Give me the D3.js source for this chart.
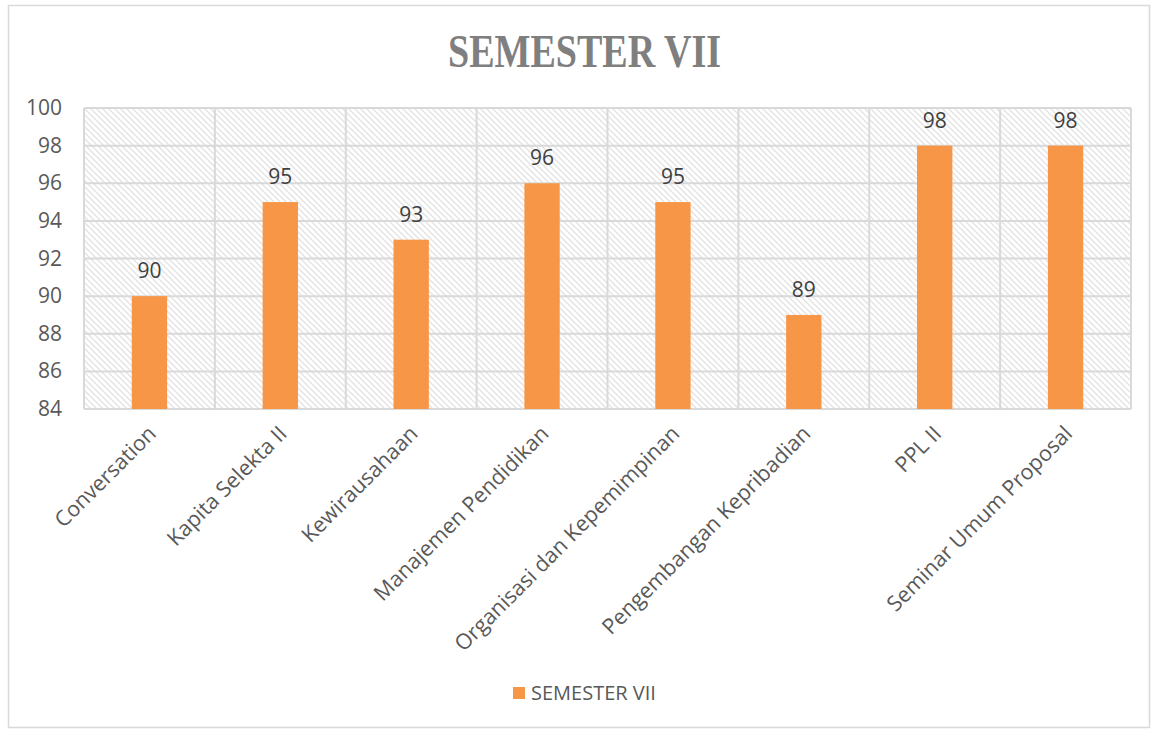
<!DOCTYPE html>
<meta charset="utf-8">
<style>
  body {margin: 0; background: #fff; font-family: "Open Sans", Lato, sans-serif;}
</style>
<svg width="1158" height="729"></svg>
<script src="https://cdn.jsdelivr.net/npm/d3@7"></script>
<script>
  // data
  const subjects = ["Conversation", "Kapita Selekta II", "Kewirausahaan", "Manajemen Pendidikan",
    "Organisasi dan Kepemimpinan", "Pengembangan Kepribadian", "PPL II", "Seminar Umum Proposal"];
  const scores = [90, 95, 93, 96, 95, 89, 98, 98];
  const yTicks = [84, 86, 88, 90, 92, 94, 96, 98, 100];
  const seriesName = "SEMESTER VII";

  const svg = d3.select("svg");
  const margin = {left: 84, right: 1131, top: 108, bottom: 409};

  // chart frame
  svg.append("rect")
    .attr("x", 8.5).attr("y", 5.5).attr("width", 1141).attr("height", 722)
    .attr("fill", "#fff").attr("stroke", "#d9d9d9").attr("stroke-width", 1.5);

  // hatch pattern
  const pat = svg.append("defs").append("pattern")
    .attr("id", "hatch").attr("patternUnits", "userSpaceOnUse")
    .attr("width", 6).attr("height", 6);
  pat.append("rect").attr("width", 6).attr("height", 6).attr("fill", "#fff");
  pat.append("path").attr("d", "M-1,-1 L7,7 M-1,5 L1,7 M5,-1 L7,1")
    .attr("stroke", "#e4e4e4").attr("stroke-width", 1.4);

  const x = d3.scaleBand().domain(subjects).range([margin.left, margin.right]).paddingInner(0).paddingOuter(0);
  const y = d3.scaleLinear().domain([84, 100]).range([margin.bottom, margin.top]);

  svg.append("rect")
    .attr("x", margin.left).attr("y", margin.top)
    .attr("width", margin.right - margin.left).attr("height", margin.bottom - margin.top)
    .attr("fill", "url(#hatch)");

  // gridlines
  svg.append("g").selectAll("line").data(yTicks).enter().append("line")
    .attr("x1", margin.left).attr("x2", margin.right)
    .attr("y1", d => y(d)).attr("y2", d => y(d))
    .attr("stroke", "#d9d9d9").attr("stroke-width", 2);
  const bounds = subjects.map(s => x(s)).concat([margin.right]);
  svg.append("g").selectAll("line").data(bounds).enter().append("line")
    .attr("x1", d => d).attr("x2", d => d)
    .attr("y1", margin.top).attr("y2", margin.bottom)
    .attr("stroke", "#d9d9d9").attr("stroke-width", 2);

  // bars
  const bw = x.bandwidth() * 0.27;
  svg.append("g").selectAll("rect").data(scores).enter().append("rect")
    .attr("x", (d, i) => x(subjects[i]) + x.bandwidth() / 2 - bw / 2)
    .attr("y", d => y(d))
    .attr("width", bw)
    .attr("height", d => y(84) - y(d))
    .attr("fill", "#f79646");

  // data labels
  svg.append("g").selectAll("text").data(scores).enter().append("text")
    .attr("x", (d, i) => x(subjects[i]) + x.bandwidth() / 2)
    .attr("y", d => y(d) - 18)
    .attr("text-anchor", "middle")
    .attr("font-size", 21).attr("fill", "#404040")
    .text(d => d);

  // y axis labels
  svg.append("g").selectAll("text").data(yTicks).enter().append("text")
    .attr("x", 62).attr("y", d => y(d) + 7)
    .attr("text-anchor", "end")
    .attr("font-size", 21).attr("fill", "#595959")
    .text(d => d);

  // x axis labels
  svg.append("g").selectAll("text").data(subjects).enter().append("text")
    .attr("transform", d => "translate(" + (x(d) + x.bandwidth() / 2 + 8) + "," + (margin.bottom + 26) + ") rotate(-45)")
    .attr("text-anchor", "end")
    .attr("font-size", 21.5).attr("fill", "#595959")
    .text(d => d);

  // title
  svg.append("text")
    .attr("x", 584.5).attr("y", 67)
    .attr("text-anchor", "middle")
    .attr("font-family", "'Liberation Serif', 'DejaVu Serif', serif")
    .attr("font-weight", "bold").attr("font-size", 47)
    .attr("textLength", 273).attr("lengthAdjust", "spacingAndGlyphs")
    .attr("fill", "#7f7f7f")
    .text(seriesName);

  // legend
  svg.append("rect").attr("x", 513).attr("y", 687).attr("width", 12).attr("height", 12).attr("fill", "#f79646");
  svg.append("text").attr("x", 531).attr("y", 700)
    .attr("font-size", 20).attr("fill", "#595959")
    .text(seriesName);
</script>
